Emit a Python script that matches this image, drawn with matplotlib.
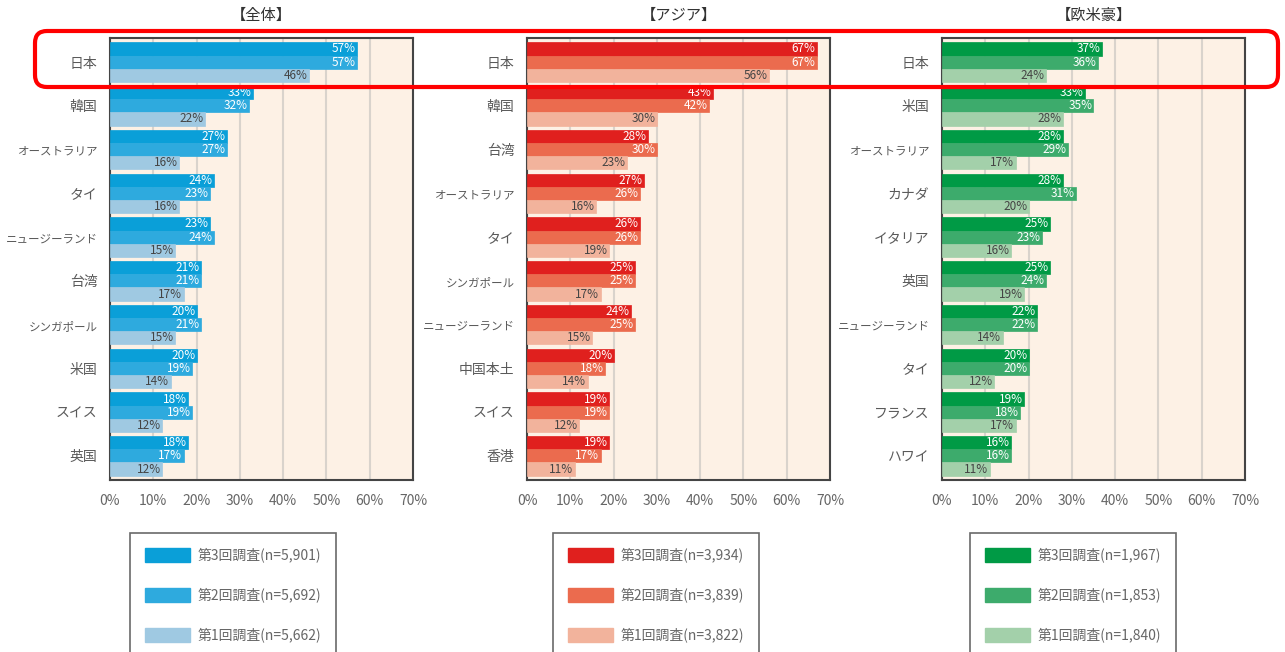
import matplotlib
matplotlib.use("Agg")
import matplotlib.pyplot as plt
from matplotlib.patches import FancyBboxPatch, Patch
import numpy as np

plt.rcParams['font.family'] = ['Noto Sans CJK JP', 'DejaVu Sans']

titles = ["【全体】", "【アジア】", "【欧米豪】"]

cats_all = ["日本", "韓国", "オーストラリア", "タイ", "ニュージーランド", "台湾", "シンガポール", "米国", "スイス", "英国"]
all_r3 = [57, 33, 27, 24, 23, 21, 20, 20, 18, 18]
all_r2 = [57, 32, 27, 23, 24, 21, 21, 19, 19, 17]
all_r1 = [46, 22, 16, 16, 15, 17, 15, 14, 12, 12]

cats_asia = ["日本", "韓国", "台湾", "オーストラリア", "タイ", "シンガポール", "ニュージーランド", "中国本土", "スイス", "香港"]
asia_r3 = [67, 43, 28, 27, 26, 25, 24, 20, 19, 19]
asia_r2 = [67, 42, 30, 26, 26, 25, 25, 18, 19, 17]
asia_r1 = [56, 30, 23, 16, 19, 17, 15, 14, 12, 11]

cats_west = ["日本", "米国", "オーストラリア", "カナダ", "イタリア", "英国", "ニュージーランド", "タイ", "フランス", "ハワイ"]
west_r3 = [37, 33, 28, 28, 25, 25, 22, 20, 19, 16]
west_r2 = [36, 35, 29, 31, 23, 24, 22, 20, 18, 16]
west_r1 = [24, 28, 17, 20, 16, 19, 14, 12, 17, 11]

legend_all = ["第3回調査(n=5,901)", "第2回調査(n=5,692)", "第1回調査(n=5,662)"]
legend_asia = ["第3回調査(n=3,934)", "第2回調査(n=3,839)", "第1回調査(n=3,822)"]
legend_west = ["第3回調査(n=1,967)", "第2回調査(n=1,853)", "第1回調査(n=1,840)"]

xticks = [0, 10, 20, 30, 40, 50, 60, 70]
xticklabels = ["0%", "10%", "20%", "30%", "40%", "50%", "60%", "70%"]

panels = [
    (cats_all, [all_r3, all_r2, all_r1], legend_all, ["#0a9fd8", "#2eaade", "#9fc9e2"], 110, 130),
    (cats_asia, [asia_r3, asia_r2, asia_r1], legend_asia, ["#e0201e", "#eb6b4e", "#f2b39c"], 527, 553),
    (cats_west, [west_r3, west_r2, west_r1], legend_west, ["#009a45", "#3dab6c", "#a3d0aa"], 942, 970),
]

W, H = 1285, 652
fig = plt.figure(figsize=(W / 100, H / 100), dpi=100)

label_colors = ["white", "white", "#444444"]

for p, (cats, series, leg, colors, left_px, leg_px) in enumerate(panels):
    ax = fig.add_axes([left_px / W, 1 - 480 / H, 303 / W, 442 / H])
    ax.set_facecolor("#fdf1e5")
    y = np.arange(len(cats))
    h = 0.3
    handles = []
    for k, vals in enumerate(series):
        bars = ax.barh(y + (k - 1) * h, vals, height=h, color=colors[k],
                       edgecolor=colors[k], linewidth=0.5, zorder=3)
        handles.append(Patch(facecolor=colors[k], edgecolor=colors[k]))
        for b, v in zip(bars, vals):
            ax.text(v - 0.3, b.get_y() + b.get_height() / 2, f"{v}%",
                    ha="right", va="center", fontsize=8.5,
                    color=label_colors[k], zorder=4)
    ax.set_xlim(0, 70)
    ax.set_ylim(len(cats) - 0.5 + 0.05, -0.5 - 0.05)
    ax.set_xticks(xticks)
    ax.set_xticklabels(xticklabels, fontsize=10, color="#666666")
    ax.set_yticks(y)
    ax.set_yticklabels(cats, color="#5a5a5a")
    for lab, c in zip(ax.get_yticklabels(), cats):
        lab.set_fontsize(8.3 if len(c) >= 6 else 10)
    ax.tick_params(axis="both", length=0)
    ax.tick_params(axis="x", pad=10)
    ax.tick_params(axis="y", pad=9)
    ax.grid(axis="x", color="#d9d3cc", linewidth=1.5, zorder=0)
    for s in ax.spines.values():
        s.set_color("#444444")
        s.set_linewidth(1.5)
    ax.set_title(titles[p], fontsize=11, color="#333333", pad=13)

    lg = fig.legend(handles, leg, loc="upper left",
                    bbox_to_anchor=(leg_px / W, 1 - 533 / H),
                    fontsize=10, frameon=True, fancybox=False,
                    handlelength=3.3, handleheight=1.25, labelspacing=1.8,
                    borderpad=1.05, handletextpad=0.55, borderaxespad=0)
    lg.get_frame().set_edgecolor("#444444")
    lg.get_frame().set_linewidth(1.2)
    for t in lg.get_texts():
        t.set_color("#666666")

rect = FancyBboxPatch((35 / 100, (H - 87) / 100), 12.43, 0.56,
                      boxstyle="round,pad=0,rounding_size=0.12",
                      transform=fig.dpi_scale_trans, fill=False,
                      edgecolor="#ff0000", linewidth=3, zorder=10)
fig.patches.append(rect)

fig.savefig("out.png", dpi=100)
